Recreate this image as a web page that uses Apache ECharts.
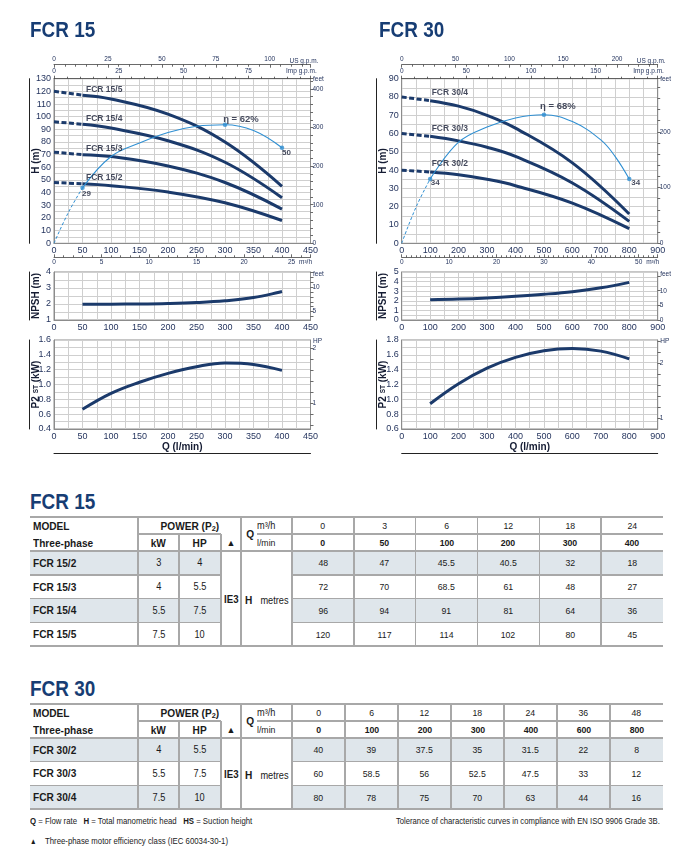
<!DOCTYPE html>
<html>
<head>
<meta charset="utf-8">
<script src="https://cdn.jsdelivr.net/npm/echarts@6.0.0/dist/echarts.min.js"></script>
<style>
  body { margin: 0; background: #fff; }
  #page { position: relative; width: 686px; height: 860px; overflow: hidden; }
  #chart { position: absolute; left: 0; top: 0; width: 686px; height: 470px; }
  .cell { position: absolute; box-sizing: border-box; display: flex; align-items: center;
          justify-content: center; white-space: nowrap; color: #1a1a1a;
          font-family: "Liberation Sans", Arial, sans-serif; }
  .cell > span { display: inline-block; }
</style>
</head>
<body>
<div id="page">
  <div id="chart"></div>
  <div id="tables"></div>
</div>
<script type="text/javascript">
var FONT = '"Liberation Sans", Arial, sans-serif';
var NAVY = '#1b3a6b';
var TXT = '#1f2f5a';
var GRIDC = '#cfcfcf';
var BORDER = '#8c8c8c';
var ETA = '#2f8fd2';
var SHADE = '#dfe6eb';

// ---- FCR 15 ----
var q15 = [0, 50, 100, 200, 300, 400];
var m3h15 = [0, 3, 6, 12, 18, 24];
var models15 = ['FCR 15/2', 'FCR 15/3', 'FCR 15/4', 'FCR 15/5'];
var kw15 = ['3', '4', '5.5', '7.5'];
var hp15 = ['4', '5.5', '7.5', '10'];
var h15_2 = [48, 47, 45.5, 40.5, 32, 18];
var h15_3 = [72, 70, 68.5, 61, 48, 27];
var h15_4 = [96, 94, 91, 81, 64, 36];
var h15_5 = [120, 117, 114, 102, 80, 45];
var etaQ15 = [0, 25, 50, 100, 150, 200, 250, 300, 350, 400];
var eta15 = [0, 16, 29, 45.4, 52.5, 58, 61.2, 62, 59, 50];
var npshQ15 = [50, 100, 150, 200, 250, 300, 350, 400];
var npsh15 = [1.98, 1.99, 2.0, 2.03, 2.09, 2.2, 2.4, 2.78];
var p2Q15 = [50, 100, 150, 200, 250, 300, 350, 400];
var p2_15 = [0.665, 0.88, 1.03, 1.15, 1.24, 1.29, 1.27, 1.19];
var npshFtTicks15 = [4, 5, 6, 7, 8, 9, 10, 11, 12, 13];
var npshFtLabels15 = [5, 10];
var hpTicks15 = [0.6, 0.8, 1, 1.2, 1.4, 1.6, 1.8, 2];
var hpLabels15 = [1, 2];

// ---- FCR 30 ----
var q30 = [0, 100, 200, 300, 400, 600, 800];
var m3h30 = [0, 6, 12, 18, 24, 36, 48];
var models30 = ['FCR 30/2', 'FCR 30/3', 'FCR 30/4'];
var kw30 = ['4', '5.5', '7.5'];
var hp30 = ['5.5', '7.5', '10'];
var h30_2 = [40, 39, 37.5, 35, 31.5, 22, 8];
var h30_3 = [60, 58.5, 56, 52.5, 47.5, 33, 12];
var h30_4 = [80, 78, 75, 70, 63, 44, 16];
var etaQ30 = [0, 50, 100, 200, 300, 400, 500, 600, 700, 750, 800];
var eta30 = [0, 19, 34, 53.5, 61.5, 66.3, 68, 64.4, 54.7, 46, 34];
var npshQ30 = [100, 200, 300, 400, 500, 600, 700, 800];
var npsh30 = [2.12, 2.18, 2.3, 2.47, 2.68, 2.95, 3.35, 3.92];
var p2Q30 = [100, 200, 300, 400, 500, 600, 700, 800];
var p2_30 = [0.94, 1.21, 1.42, 1.565, 1.655, 1.685, 1.65, 1.545];
var npshFtTicks30 = [0, 5, 10, 15];
var npshFtLabels30 = [0, 5, 10];
var hpTicks30 = [1, 1.2, 1.4, 1.6, 1.8, 2, 2.2, 2.4];
var hpLabels30 = [1, 2];

var side15 = {
  left: 54, width: 256.5, qMax: 450, qMinor: 25, qMajor: 50, hMax: 130, etaMax: 86.1,
  usStep: 25, impStep: 25, m3Step: 5, m3Minor: 5, npshMin: 1, npshMax: 4, p2Min: 0.4, p2Max: 1.6,
  q: q15, heads: [h15_2, h15_3, h15_4, h15_5], models: models15, etaQ: etaQ15, eta: eta15,
  npshQ: npshQ15, npsh: npsh15, p2Q: p2Q15, p2: p2_15,
  npshFtTicks: npshFtTicks15, npshFtLabels: npshFtLabels15, hpTicks: hpTicks15, hpLabels: hpLabels15,
  nameOffset: [3.5, -6], etaOffsets: [[4, 6], [16, -5.5], [4.5, 5.5]]
};
var side30 = {
  left: 401.7, width: 256, qMax: 900, qMinor: 50, qMajor: 100, hMax: 90, etaMax: 87.1,
  usStep: 50, impStep: 50, m3Step: 10, m3Minor: 10, npshMin: 0, npshMax: 5, p2Min: 0.6, p2Max: 1.8,
  q: q30, heads: [h30_2, h30_3, h30_4], models: models30, etaQ: etaQ30, eta: eta30,
  npshQ: npshQ30, npsh: npsh30, p2Q: p2Q30, p2: p2_30,
  npshFtTicks: npshFtTicks30, npshFtLabels: npshFtLabels30, hpTicks: hpTicks30, hpLabels: hpLabels30,
  nameOffset: [1.5, -8], etaOffsets: [[5, 4], [14, -8], [6.5, 4]]
};

var option = {
  animation: false,
  backgroundColor: '#fff',
  textStyle: { fontFamily: FONT },
  grid: [], xAxis: [], yAxis: [], series: [], graphic: []
};

var boldName = { fontFamily: FONT, fontSize: 10, fontWeight: 'bold', color: '#151c33' };

function tickLabel(size, margin) {
  return { fontFamily: FONT, fontSize: size, color: TXT, margin: margin };
}

function pairs(xs, ys) {
  return xs.map(function (x, i) { return [x, ys[i]]; });
}

function note(x, y, text, size, extra) {
  option.graphic.push(Object.assign({
    type: 'text', x: x, y: y, silent: true,
    style: { text: text, fontFamily: FONT, fontSize: size || 6.5, fill: TXT, verticalAlign: 'middle', align: 'left' }
  }, extra || {}));
}

function unitAxis(grid, pos, offset, max, step, minor, inside) {
  return {
    type: 'value', gridIndex: grid, position: pos, offset: offset, min: 0, max: max, interval: step,
    axisLine: { show: true, onZero: false, lineStyle: { color: '#444', width: 0.8 } },
    axisTick: { show: true, inside: inside, length: 3, lineStyle: { color: '#444', width: 0.8 } },
    minorTick: { show: true, splitNumber: minor, length: 2, lineStyle: { color: '#444', width: 0.8 } },
    axisLabel: Object.assign(tickLabel(6.5, inside ? 1.5 : 4), { showMaxLabel: false }),
    splitLine: { show: false }
  };
}

function lineAxis(grid, pos, offset) {
  // bare axis line used as the rule beside the axis titles
  return {
    type: 'value', gridIndex: grid, position: pos, offset: offset, min: 0, max: 1,
    axisLine: { show: true, onZero: false, lineStyle: { color: '#222', width: 1 } },
    axisTick: { show: false }, axisLabel: { show: false }, splitLine: { show: false }
  };
}

function rightAxis(grid, min, max, extra) {
  return Object.assign({
    type: 'value', gridIndex: grid, position: 'right', min: min, max: max,
    axisLine: { show: true, onZero: false, lineStyle: { color: BORDER } },
    axisTick: { show: true, length: 3, lineStyle: { color: '#444', width: 0.8 } },
    axisLabel: Object.assign(tickLabel(6.5, 2), { showMaxLabel: false }),
    splitLine: { show: false }
  }, extra);
}

function leftAxis(grid, min, max, step, fmt, name) {
  return {
    type: 'value', gridIndex: grid, min: min, max: max, interval: step,
    axisLine: { show: true, onZero: false, lineStyle: { color: BORDER } }, axisTick: { show: false },
    axisLabel: Object.assign(tickLabel(9, 3), { formatter: fmt }),
    splitLine: { show: true, lineStyle: { color: GRIDC } },
    name: name, nameLocation: 'middle', nameGap: 13, nameMoveOverlap: false, nameTextStyle: boldName
  };
}

function addSide(s) {
  var X = option.xAxis, Y = option.yAxis, S = option.series;
  var g0 = option.grid.length;
  var R = s.left + s.width;
  [[78.7, 164.6], [272, 48], [340, 89]].forEach(function (r) {
    option.grid.push({ left: s.left, width: s.width, top: r[0], height: r[1],
      show: true, borderColor: BORDER, borderWidth: 1 });
  });

  var xq = [];
  [0, 1, 2].forEach(function (k) {
    xq.push(X.length);
    X.push({
      type: 'value', gridIndex: g0 + k, min: 0, max: s.qMax, interval: s.qMinor,
      axisLine: { show: true, onZero: false, lineStyle: { color: BORDER } }, axisTick: { show: false },
      axisLabel: Object.assign(tickLabel(9, 3), {
        formatter: function (v) { return v % s.qMajor === 0 ? String(v) : ''; }
      }),
      splitLine: { show: true, lineStyle: { color: GRIDC } },
      name: k === 2 ? 'Q (l/min)' : '', nameLocation: 'middle', nameGap: 13, nameMoveOverlap: false,
      nameTextStyle: boldName
    });
  });

  // flow in other units
  X.push(unitAxis(g0, 'top', 14, s.qMax / 3.78541, s.usStep, 5, true));
  X.push(unitAxis(g0, 'top', 0, s.qMax / 4.54609, s.impStep, 5, false));
  X.push(unitAxis(g0, 'bottom', 14, s.qMax * 0.06, s.m3Step, s.m3Minor, true));
  X.push(lineAxis(g0 + 2, 'bottom', 24));
  note(R - 21, 61, 'US g.p.m.');
  note(R - 24.5, 71, 'Imp g.p.m.');
  note(R - 11.5, 262, 'm³/h');
  note(R + 2.5, 79.5, 'feet');
  note(R + 2.5, 274, 'feet');
  note(R + 2.5, 341, 'HP');

  // head chart
  var yH = Y.length;
  Y.push(leftAxis(g0, 0, s.hMax, 5, function (v) { return v % 10 === 0 ? String(v) : ''; }, 'H (m)'));
  Y.push(rightAxis(g0, 0, s.hMax * 3.28084, {
    interval: 100,
    minorTick: { show: true, splitNumber: 5, length: 2.5, lineStyle: { color: '#444', width: 0.8 } }
  }));
  var yEta = Y.length;
  Y.push({ type: 'value', gridIndex: g0, min: 0, max: s.etaMax, show: false });
  Y.push(lineAxis(g0, 'left', 25));

  // NPSH chart
  var yN = Y.length;
  Y.push(leftAxis(g0 + 1, s.npshMin, s.npshMax, 0.5, function (v) { return v % 1 === 0 ? String(v) : ''; }, 'NPSH (m)'));
  Y.push(rightAxis(g0 + 1, s.npshMin * 3.28084, s.npshMax * 3.28084, {
    axisTick: { show: true, length: 3, customValues: s.npshFtTicks, lineStyle: { color: '#444', width: 0.8 } },
    axisLabel: Object.assign(tickLabel(6.5, 2), { customValues: s.npshFtLabels })
  }));
  Y.push(lineAxis(g0 + 1, 'left', 25));

  // P2 chart
  var yP = Y.length;
  var p2Axis = leftAxis(g0 + 2, s.p2Min, s.p2Max, 0.1, function (v) {
    return Math.round(v * 10) % 2 === 0 ? v.toFixed(1) : '';
  }, '{a|P2 }{b|ST}{a| (kW)}');
  p2Axis.nameTextStyle = { rich: {
    a: { fontFamily: FONT, fontSize: 10, fontWeight: 'bold', color: '#151c33' },
    b: { fontFamily: FONT, fontSize: 6.5, fontWeight: 'bold', color: '#151c33' }
  } };
  Y.push(p2Axis);
  Y.push(rightAxis(g0 + 2, s.p2Min / 0.7457, s.p2Max / 0.7457, {
    axisTick: { show: true, length: 3, customValues: s.hpTicks, lineStyle: { color: '#444', width: 0.8 } },
    axisLabel: Object.assign(tickLabel(6.5, 2), { customValues: s.hpLabels })
  }));
  Y.push(lineAxis(g0 + 2, 'left', 25));

  // head curves: dashed up to the first duty point, solid after it
  s.heads.forEach(function (h, m) {
    var pts = pairs(s.q, h);
    S.push({ type: 'line', xAxisIndex: xq[0], yAxisIndex: yH, data: pts.slice(0, 2), symbol: 'none',
      lineStyle: { color: NAVY, width: 3, type: [5, 2.5] }, z: 3 });
    S.push({ type: 'line', xAxisIndex: xq[0], yAxisIndex: yH, data: pts.slice(1), symbol: 'none',
      smooth: 0.4, lineStyle: { color: NAVY, width: 3 }, z: 3 });
    S.push({ type: 'scatter', xAxisIndex: xq[0], yAxisIndex: yH, data: [pts[1]], symbolSize: 0, silent: true,
      label: { show: true, position: 'inside', align: 'left', offset: s.nameOffset, formatter: s.models[m],
        fontFamily: FONT, fontSize: 8.5, fontWeight: 'bold', color: '#151c33' }, z: 5 });
  });

  // efficiency curve
  var e = pairs(s.etaQ, s.eta);
  var k0 = s.etaQ.indexOf(s.q[1]);
  var kMax = s.eta.indexOf(Math.max.apply(null, s.eta));
  var kEnd = s.eta.length - 1;
  S.push({ type: 'line', xAxisIndex: xq[0], yAxisIndex: yEta, data: e.slice(0, k0 + 1), symbol: 'none',
    smooth: 0.4, lineStyle: { color: ETA, width: 1, type: [3, 2] }, z: 4 });
  S.push({ type: 'line', xAxisIndex: xq[0], yAxisIndex: yEta, data: e.slice(k0), symbol: 'none',
    smooth: 0.4, lineStyle: { color: ETA, width: 1.1 }, z: 4 });
  var etaTexts = [String(s.eta[k0]), 'η = ' + s.eta[kMax] + '%', String(s.eta[kEnd])];
  S.push({ type: 'scatter', xAxisIndex: xq[0], yAxisIndex: yEta, symbolSize: 4.5, silent: true,
    itemStyle: { color: ETA }, z: 6,
    data: [k0, kMax, kEnd].map(function (k, i) {
      return { value: e[k], label: { show: true, position: 'inside', align: 'center',
        offset: s.etaOffsets[i], formatter: etaTexts[i], fontFamily: FONT,
        fontSize: i === 1 ? 9.5 : 8, fontWeight: 'bold', color: '#151c33' } };
    }) });

  S.push({ type: 'line', xAxisIndex: xq[1], yAxisIndex: yN, data: pairs(s.npshQ, s.npsh), symbol: 'none',
    smooth: 0.4, lineStyle: { color: NAVY, width: 3 } });
  S.push({ type: 'line', xAxisIndex: xq[2], yAxisIndex: yP, data: pairs(s.p2Q, s.p2), symbol: 'none',
    smooth: 0.4, lineStyle: { color: NAVY, width: 3 } });
}

addSide(side15);
addSide(side30);
note(30, 31, 'FCR 15', 22, { scaleX: 0.86, style: { text: 'FCR 15', fontFamily: FONT, fontSize: 22, fontWeight: 'bold', fill: '#173d74', verticalAlign: 'middle' } });
note(379, 31, 'FCR 30', 22, { scaleX: 0.86, style: { text: 'FCR 30', fontFamily: FONT, fontSize: 22, fontWeight: 'bold', fill: '#173d74', verticalAlign: 'middle' } });

var myChart = echarts.init(document.getElementById('chart'));
myChart.setOption(option);

// ---- data tables ----
var holder = document.getElementById('tables');

function put(x, y, w, h, html, css, sx) {
  var d = document.createElement('div');
  d.className = 'cell';
  d.style.left = x + 'px';
  d.style.top = y + 'px';
  d.style.width = w + 'px';
  d.style.height = h + 'px';
  if (html !== '') {
    var sp = document.createElement('span');
    sp.innerHTML = html;
    if (sx) {
      sp.style.transform = 'scaleX(' + sx + ')';
      sp.style.transformOrigin = /flex-end/.test(css) ? 'right center' : (/flex-start/.test(css) ? 'left center' : 'center');
    }
    d.appendChild(sp);
  }
  if (css) d.style.cssText += ';' + css;
  holder.appendChild(d);
}
function hLine(x1, x2, y) { put(x1, y - 0.75, x2 - x1, 1.5, '', 'background:#a8a8a8'); }
function vLine(x, y1, y2) { put(x - 0.75, y1, 1.5, y2 - y1, '', 'background:#a8a8a8'); }

var LEFTB = 'justify-content:flex-start;font-weight:bold;font-size:11px';
var SX = 0.92;

function drawTable(t) {
  var xEnd = 663;
  var n = t.q.length;
  var cw = (xEnd - 292) / n;
  var y0 = t.top, y1 = t.top + 17, y2 = t.top + 34;
  var rh = t.rowH;
  var yEnd = y2 + rh * t.models.length;

  put(30, y0 - 28, 120, 26, t.title, 'justify-content:flex-start;font-size:22px;font-weight:bold;color:#173d74', 0.86);

  t.models.forEach(function (m, r) {
    var ry = y2 + r * rh;
    if (r % 2 === 0) {
      put(30, ry, 191, rh, '', 'background:' + SHADE);
      put(292, ry, xEnd - 292, rh, '', 'background:' + SHADE);
    }
    put(33, ry, 105, rh, m, LEFTB, SX);
    put(138, ry, 41, rh, t.kw[r], 'font-size:10px', SX);
    put(179, ry, 42, rh, t.hp[r], 'font-size:10px', SX);
    t.heads[r].forEach(function (v, i) {
      put(292 + i * cw, ry, cw, rh, String(v), 'font-size:9.5px', SX);
    });
  });

  put(33, y0, 100, 17, 'MODEL', LEFTB, SX);
  put(33, y1, 100, 17, 'Three-phase', LEFTB, SX);
  put(138, y0, 103, 17, 'POWER (P<span style="font-size:8px;position:relative;top:1px">2</span>)', 'font-weight:bold;font-size:11px', SX);
  put(138, y1, 41, 17, 'kW', 'font-weight:bold;font-size:11px', SX);
  put(179, y1, 42, 17, 'HP', 'font-weight:bold;font-size:11px', SX);
  put(221, y1, 20, 17, '▲', 'font-size:9px');
  put(244, y0 + 8.5, 12, 17, 'Q', 'font-weight:bold;font-size:11px', SX);
  put(257, y0, 35, 17, 'm³/h', 'justify-content:flex-start;font-size:10px', SX);
  put(257, y1, 35, 17, 'l/min', 'justify-content:flex-start;font-size:9.5px', SX);
  t.m3h.forEach(function (v, i) { put(292 + i * cw, y0, cw, 17, String(v), 'font-size:9.5px', SX); });
  t.q.forEach(function (v, i) { put(292 + i * cw, y1, cw, 17, String(v), 'font-weight:bold;font-size:9.5px', SX); });
  put(221, y2, 20, yEnd - y2, 'IE3', 'font-weight:bold;font-size:11px', 0.88);
  put(241, y2, 51, yEnd - y2, '<b style="font-size:11px">H</b>&nbsp;&nbsp;<span style="font-size:10px">metres</span>', '', 0.92);

  hLine(30, xEnd, y0);
  hLine(138, 221, y1);
  hLine(257, xEnd, y1);
  hLine(30, xEnd, y2);
  for (var r = 1; r < t.models.length; r++) {
    hLine(30, 221, y2 + r * rh);
    hLine(292, xEnd, y2 + r * rh);
  }
  hLine(30, xEnd, yEnd);
  vLine(138, y0, yEnd);
  vLine(179, y1, yEnd);
  vLine(221, y1, yEnd);
  vLine(241, y0, yEnd);
  for (var i = 0; i < n; i++) vLine(292 + i * cw, y0, yEnd);
}

drawTable({ title: 'FCR 15', top: 517, rowH: 23.75, q: q15, m3h: m3h15, models: models15,
  kw: kw15, hp: hp15, heads: [h15_2, h15_3, h15_4, h15_5] });
drawTable({ title: 'FCR 30', top: 704, rowH: 23.67, q: q30, m3h: m3h30, models: models30,
  kw: kw30, hp: hp30, heads: [h30_2, h30_3, h30_4] });

put(30, 812, 300, 16, '<b>Q</b> = Flow rate&nbsp;&nbsp; <b>H</b> = Total manometric head&nbsp;&nbsp; <b>HS</b> = Suction height',
  'justify-content:flex-start;font-size:9.5px', 0.82);
put(360, 812, 300, 16, 'Tolerance of characteristic curves in compliance with EN ISO 9906 Grade 3B.',
  'justify-content:flex-end;font-size:9.5px', 0.81);
put(30, 832, 320, 16, '<span style="font-size:8px">▲</span>&nbsp;&nbsp;&nbsp; Three-phase motor efficiency class (IEC 60034-30-1)',
  'justify-content:flex-start;font-size:9.5px', 0.82);

window.addEventListener('resize', function () { myChart.resize(); });
</script>
</body>
</html>
